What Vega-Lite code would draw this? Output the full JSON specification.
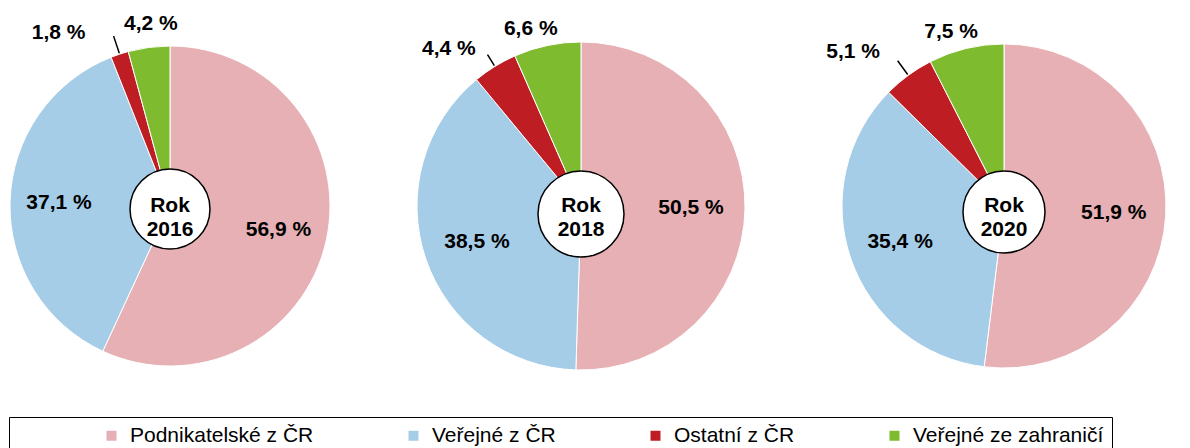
{
  "$schema": "https://vega.github.io/schema/vega-lite/v6.json",
  "padding": {"left": 8, "top": 6, "right": 0, "bottom": 0},
  "autosize": {"type": "pad"},
  "background": "#ffffff",
  "bounds": "flush",
  "config": {
    "view": {"stroke": null},
    "font": "Liberation Sans",
    "text": {"font": "Liberation Sans", "fontWeight": "bold", "fontSize": 21, "color": "#000000"}
  },
  "data": {
    "values": [
      {"year": "2016", "category": "Podnikatelské z ČR", "value": 56.9, "order": 1},
      {"year": "2016", "category": "Veřejné z ČR", "value": 37.1, "order": 2},
      {"year": "2016", "category": "Ostatní z ČR", "value": 1.8, "order": 3},
      {"year": "2016", "category": "Veřejné ze zahraničí", "value": 4.2, "order": 4},
      {"year": "2018", "category": "Podnikatelské z ČR", "value": 50.5, "order": 1},
      {"year": "2018", "category": "Veřejné z ČR", "value": 38.5, "order": 2},
      {"year": "2018", "category": "Ostatní z ČR", "value": 4.4, "order": 3},
      {"year": "2018", "category": "Veřejné ze zahraničí", "value": 6.6, "order": 4},
      {"year": "2020", "category": "Podnikatelské z ČR", "value": 51.9, "order": 1},
      {"year": "2020", "category": "Veřejné z ČR", "value": 35.4, "order": 2},
      {"year": "2020", "category": "Ostatní z ČR", "value": 5.1, "order": 3},
      {"year": "2020", "category": "Veřejné ze zahraničí", "value": 7.5, "order": 4}
    ]
  },
  "transform": [
    {"calculate": "replace(format(datum.value, '.1f'), '.', ',') + ' %'", "as": "label"},
    {"window": [{"op": "sum", "field": "value", "as": "cum"}], "sort": [{"field": "order"}], "groupby": ["year"], "frame": [null, 0]},
    {"calculate": "datum.cum - datum.value / 2", "as": "mid"},
    {"calculate": "'Rok\\n' + datum.year", "as": "yl"}
  ],
  "spacing": 60,
  "hconcat": [
    {
      "width": 322, "height": 400,
      "transform": [{"filter": "datum.year == '2016'"}],
      "layer": [
        {"mark": {"type": "arc", "outerRadius": 160, "stroke": "#ffffff", "strokeWidth": 1},
         "encoding": {
           "theta": {"field": "value", "type": "quantitative", "stack": true},
           "color": {"field": "category", "type": "nominal",
             "scale": {"domain": ["Podnikatelské z ČR", "Veřejné z ČR", "Ostatní z ČR", "Veřejné ze zahraničí"],
                       "range": ["#E6B0B4", "#A6CDE7", "#BE1D24", "#7EBB2E"]},
             "legend": {
               "orient": "none", "legendX": 0, "legendY": 411,
               "direction": "horizontal", "columns": 4,
               "title": " ", "titleOrient": "left", "titlePadding": 84, "titleFontSize": 21,
               "strokeColor": "#000000", "padding": 8, "cornerRadius": 0,
               "symbolType": "square", "symbolSize": 100, "symbolStrokeWidth": 0,
               "labelFont": "Liberation Sans", "labelFontSize": 21, "labelColor": "#000000",
               "columnPadding": 89, "labelOffset": 8, "labelLimit": 400}},
           "order": {"field": "order", "type": "quantitative"}}},
        {"transform": [{"filter": "datum.order == 3"}],
         "mark": {"type": "arc", "innerRadius": 161, "outerRadius": 179, "stroke": "#000000", "strokeWidth": 1.5, "fill": "#000000"},
         "encoding": {"theta": {"field": "mid", "type": "quantitative", "stack": null}, "theta2": {"field": "mid"}}},
        {"transform": [{"filter": "datum.order <= 2"}],
         "mark": {"type": "text", "radius": 111},
         "encoding": {"theta": {"field": "mid", "type": "quantitative", "stack": null}, "text": {"field": "label", "type": "nominal"}}},
        {"transform": [{"filter": "datum.order == 4"}],
         "mark": {"type": "text", "radius": 184, "dx": 5},
         "encoding": {"theta": {"field": "mid", "type": "quantitative", "stack": null}, "text": {"field": "label", "type": "nominal"}}},
        {"transform": [{"filter": "datum.order == 3"}],
         "mark": {"type": "text", "radius": 182, "dx": -54},
         "encoding": {"theta": {"field": "mid", "type": "quantitative", "stack": null}, "text": {"field": "label", "type": "nominal"}}},
        {"transform": [{"filter": "datum.order == 1"}],
         "mark": {"type": "arc", "theta": 0, "theta2": 6.2832, "innerRadius": 0, "outerRadius": 40, "yOffset": 3, "fill": "#ffffff", "stroke": "#000000", "strokeWidth": 1.5},
         "encoding": {}},
        {"transform": [{"filter": "datum.order == 1"}],
         "mark": {"type": "text", "lineBreak": "\n", "lineHeight": 24, "baseline": "middle"},
         "encoding": {"text": {"field": "yl", "type": "nominal"}}}
      ]
    },
    {
      "width": 380, "height": 400,
      "transform": [{"filter": "datum.year == '2018'"}],
      "layer": [
        {"mark": {"type": "arc", "outerRadius": 164, "stroke": "#ffffff", "strokeWidth": 1},
         "encoding": {
           "theta": {"field": "value", "type": "quantitative", "stack": true},
           "color": {"field": "category", "type": "nominal",
             "scale": {"domain": ["Podnikatelské z ČR", "Veřejné z ČR", "Ostatní z ČR", "Veřejné ze zahraničí"],
                       "range": ["#E6B0B4", "#A6CDE7", "#BE1D24", "#7EBB2E"]}},
           "order": {"field": "order", "type": "quantitative"}}},
        {"transform": [{"filter": "datum.order == 3"}],
         "mark": {"type": "arc", "innerRadius": 165, "outerRadius": 178, "stroke": "#000000", "strokeWidth": 1.5, "fill": "#000000"},
         "encoding": {"theta": {"field": "mid", "type": "quantitative", "stack": null}, "theta2": {"field": "mid"}}},
        {"transform": [{"filter": "datum.order <= 2"}],
         "mark": {"type": "text", "radius": 110},
         "encoding": {"theta": {"field": "mid", "type": "quantitative", "stack": null}, "text": {"field": "label", "type": "nominal"}}},
        {"transform": [{"filter": "datum.order == 4"}],
         "mark": {"type": "text", "radius": 181, "dx": -13},
         "encoding": {"theta": {"field": "mid", "type": "quantitative", "stack": null}, "text": {"field": "label", "type": "nominal"}}},
        {"transform": [{"filter": "datum.order == 3"}],
         "mark": {"type": "text", "radius": 185, "dx": -35},
         "encoding": {"theta": {"field": "mid", "type": "quantitative", "stack": null}, "text": {"field": "label", "type": "nominal"}}},
        {"transform": [{"filter": "datum.order == 1"}],
         "mark": {"type": "arc", "theta": 0, "theta2": 6.2832, "innerRadius": 0, "outerRadius": 43, "yOffset": 8, "fill": "#ffffff", "stroke": "#000000", "strokeWidth": 1.5},
         "encoding": {}},
        {"transform": [{"filter": "datum.order == 1"}],
         "mark": {"type": "text", "lineBreak": "\n", "lineHeight": 24, "baseline": "middle"},
         "encoding": {"text": {"field": "yl", "type": "nominal"}}}
      ]
    },
    {
      "width": 346, "height": 400,
      "transform": [{"filter": "datum.year == '2020'"}],
      "layer": [
        {"mark": {"type": "arc", "outerRadius": 162, "stroke": "#ffffff", "strokeWidth": 1},
         "encoding": {
           "theta": {"field": "value", "type": "quantitative", "stack": true},
           "color": {"field": "category", "type": "nominal",
             "scale": {"domain": ["Podnikatelské z ČR", "Veřejné z ČR", "Ostatní z ČR", "Veřejné ze zahraničí"],
                       "range": ["#E6B0B4", "#A6CDE7", "#BE1D24", "#7EBB2E"]}},
           "order": {"field": "order", "type": "quantitative"}}},
        {"transform": [{"filter": "datum.order == 3"}],
         "mark": {"type": "arc", "innerRadius": 163, "outerRadius": 180, "stroke": "#000000", "strokeWidth": 1.5, "fill": "#000000"},
         "encoding": {"theta": {"field": "mid", "type": "quantitative", "stack": null}, "theta2": {"field": "mid"}}},
        {"transform": [{"filter": "datum.order <= 2"}],
         "mark": {"type": "text", "radius": 110},
         "encoding": {"theta": {"field": "mid", "type": "quantitative", "stack": null}, "text": {"field": "label", "type": "nominal"}}},
        {"transform": [{"filter": "datum.order == 4"}],
         "mark": {"type": "text", "radius": 179, "dx": -11},
         "encoding": {"theta": {"field": "mid", "type": "quantitative", "stack": null}, "text": {"field": "label", "type": "nominal"}}},
        {"transform": [{"filter": "datum.order == 3"}],
         "mark": {"type": "text", "radius": 191, "dx": -38},
         "encoding": {"theta": {"field": "mid", "type": "quantitative", "stack": null}, "text": {"field": "label", "type": "nominal"}}},
        {"transform": [{"filter": "datum.order == 1"}],
         "mark": {"type": "arc", "theta": 0, "theta2": 6.2832, "innerRadius": 0, "outerRadius": 41, "yOffset": 6, "fill": "#ffffff", "stroke": "#000000", "strokeWidth": 1.5},
         "encoding": {}},
        {"transform": [{"filter": "datum.order == 1"}],
         "mark": {"type": "text", "lineBreak": "\n", "lineHeight": 24, "baseline": "middle"},
         "encoding": {"text": {"field": "yl", "type": "nominal"}}}
      ]
    }
  ]
}
